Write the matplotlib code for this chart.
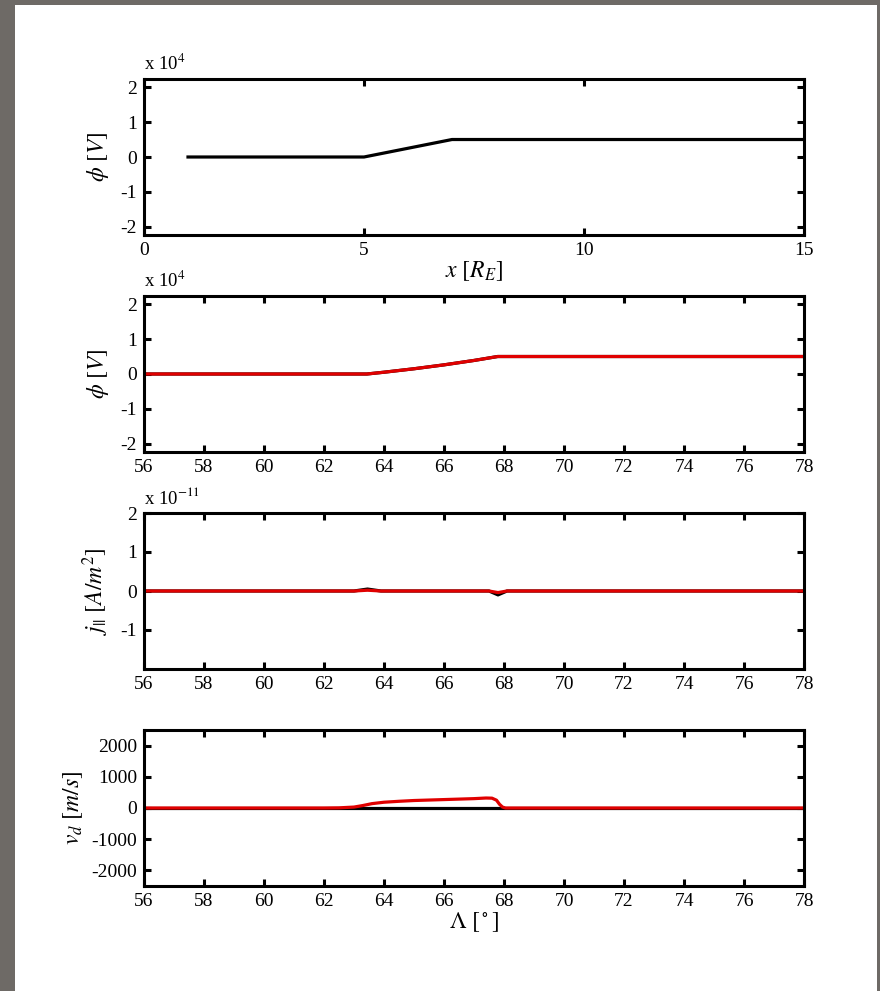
import matplotlib
matplotlib.use("Agg")
import matplotlib.pyplot as plt
from matplotlib.patches import Rectangle

plt.rcParams["font.family"] = "Liberation Serif"
plt.rcParams["mathtext.fontset"] = "stix"
plt.rcParams["axes.unicode_minus"] = False

# potential along the equator, x in R_E
x_eq = [1, 5, 7, 15]
phi_eq = [0, 0, 5000, 5000]

# mapped to invariant latitude
lat_phi = [56, 63.43, 64, 65, 66, 67, 67.79, 78]
phi_black = [0, 0, 510, 1497, 2613, 3873, 5000, 5000]
phi_red = [0, 0, 510, 1497, 2613, 3873, 5000, 5000]

# field-aligned current (1e-11 A/m^2)
lat_j = [56, 63.0, 63.45, 63.9, 67.5, 67.8, 68.1, 78]
j_black = [0, 0, 0.05, 0, 0, -0.1, 0, 0]
j_red = [0, 0, 0.02, 0, 0, -0.04, 0, 0]

# drift velocity (m/s)
lat_v = [56, 62.0, 62.5, 63.0, 63.3, 63.6, 64.0, 64.5, 65.0, 66.0, 67.0,
         67.4, 67.6, 67.75, 67.85, 67.95, 68.05, 78]
v_black = [0] * len(lat_v)
v_red = [0, 0, 5, 30, 80, 140, 185, 215, 240, 270, 300,
         320, 315, 250, 120, 30, 0, 0]

RED = "#e00000"
lw = 2.3
fs = 14
lfs = 17

fig = plt.figure(figsize=(8.8, 9.91), dpi=100)
fig.patch.set_facecolor("#6e6a66")
fig.patches.append(Rectangle((15 / 880, 0), 862 / 880, 986 / 991,
                             transform=fig.transFigure, facecolor="white",
                             edgecolor="none", zorder=-10))

left, width, height = 144 / 880, 660 / 880, 156 / 991
bottoms = [1 - 235 / 991, 1 - 452 / 991, 1 - 669 / 991, 1 - 886 / 991]
axes = [fig.add_axes([left, b, width, height]) for b in bottoms]


def style(ax, label_x=-0.05):
    ax.set_facecolor("white")
    for s in ax.spines.values():
        s.set_linewidth(2.2)
    ax.tick_params(direction="in", length=5, width=2.2, top=True, right=True,
                   labelsize=fs, pad=5)
    ax.yaxis.set_label_coords(label_x, 0.5)


def offset_label(ax, exp):
    ax.text(0.0, 1.06, "x 10$^{%s}$" % exp, transform=ax.transAxes,
            fontsize=13.5, ha="left", va="baseline")


ax1, ax2, ax3, ax4 = axes

ax1.plot(x_eq, [v / 1e4 for v in phi_eq], color="black", lw=lw)
ax1.set_xlim(0, 15)
ax1.set_ylim(-2.23, 2.23)
ax1.set_xticks([0, 5, 10, 15])
ax1.set_yticks([-2, -1, 0, 1, 2])
ax1.set_xlabel(r"$x\ [R_E]$", fontsize=lfs, labelpad=0)
ax1.set_ylabel(r"$\phi\ [V]$", fontsize=lfs)
offset_label(ax1, 4)

ax2.plot(lat_phi, [v / 1e4 for v in phi_black], color="black", lw=lw)
ax2.plot(lat_phi, [v / 1e4 for v in phi_red], color=RED, lw=lw)
ax2.set_ylim(-2.23, 2.23)
ax2.set_yticks([-2, -1, 0, 1, 2])
ax2.set_ylabel(r"$\phi\ [V]$", fontsize=lfs)
offset_label(ax2, 4)

ax3.plot(lat_j, j_black, color="black", lw=lw)
ax3.plot(lat_j, j_red, color=RED, lw=lw)
ax3.set_ylim(-2, 2)
ax3.set_yticks([-1, 0, 1, 2])
ax3.set_ylabel(r"$j_{||}\ [A/m^2]$", fontsize=lfs)
offset_label(ax3, -11)

ax4.plot(lat_v, v_black, color="black", lw=lw)
ax4.plot(lat_v, v_red, color=RED, lw=lw)
ax4.set_ylim(-2500, 2500)
ax4.set_yticks([-2000, -1000, 0, 1000, 2000])
ax4.set_ylabel(r"$v_d\ [m/s]$", fontsize=lfs)
ax4.set_xlabel(r"$\Lambda\ [^\circ]$", fontsize=lfs, labelpad=0)

for ax in (ax2, ax3, ax4):
    ax.set_xlim(56, 78)
    ax.set_xticks(range(56, 79, 2))

for ax in (ax1, ax2, ax3):
    style(ax)
style(ax4, label_x=-0.09)

fig.savefig("out.png", dpi=100, facecolor=fig.get_facecolor())
